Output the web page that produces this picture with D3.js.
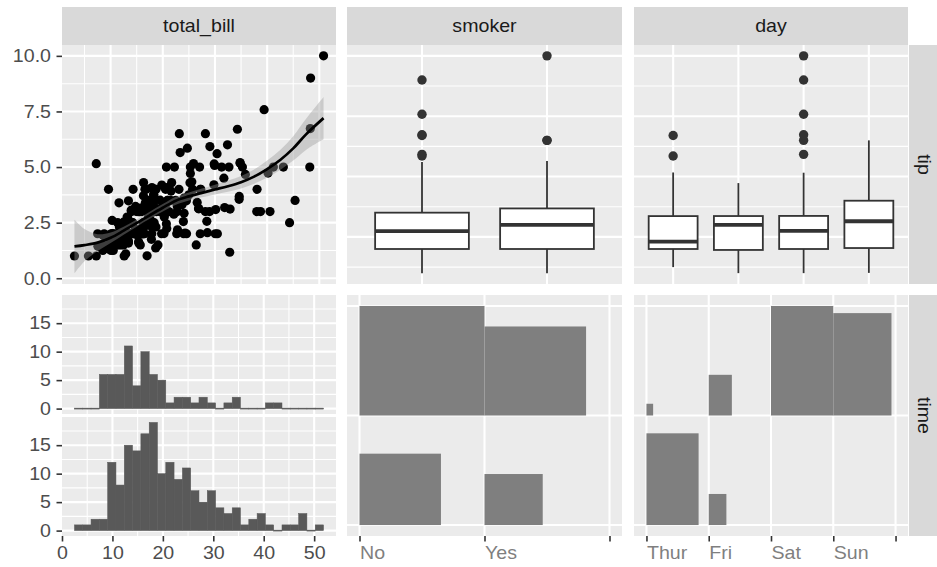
<!DOCTYPE html>
<html>
<head>
<meta charset="utf-8">
<script src="https://cdn.jsdelivr.net/npm/d3@7"></script>
<style>
  body { margin: 0; background: #ffffff; }
  svg { display: block; }
  text { font-family: "Liberation Sans", Arial, Helvetica, sans-serif; }
</style>
</head>
<body>
<svg id="chart" width="937" height="567"></svg>
<script>
// ---------------- data: restaurant tips ----------------
const totalBill = [
  16.99,10.34,21.01,23.68,24.59,25.29,8.77,26.88,15.04,14.78,
  10.27,35.26,15.42,18.43,14.83,21.58,10.33,16.29,16.97,20.65,
  17.92,20.29,15.77,39.42,19.82,17.81,13.37,12.69,21.7,19.65,
  9.55,18.35,15.06,20.69,17.78,24.06,16.31,16.93,18.69,31.27,
  16.04,17.46,13.94,9.68,30.4,18.29,22.23,32.4,28.55,18.04,
  12.54,10.29,34.81,9.94,25.56,19.49,38.01,26.41,11.24,48.27,
  20.29,13.81,11.02,18.29,17.59,20.08,16.45,3.07,20.23,15.01,
  12.02,17.07,26.86,25.28,14.73,10.51,17.92,27.2,22.76,17.29,
  19.44,16.66,10.07,32.68,15.98,34.83,13.03,18.28,24.71,21.16,
  28.97,22.49,5.75,16.32,22.75,40.17,27.28,12.03,21.01,12.46,
  11.35,15.38,44.3,22.42,20.92,15.36,20.49,25.21,18.24,14.31,
  14.0,7.25,38.07,23.95,25.71,17.31,29.93,10.65,12.43,24.08,
  11.69,13.42,14.26,15.95,12.48,29.8,8.52,14.52,11.38,22.82,
  19.08,20.27,11.17,12.26,18.26,8.51,10.33,14.15,16.0,13.16,
  17.47,34.3,41.19,27.05,16.43,8.35,18.64,11.87,9.78,7.51,
  14.07,13.13,17.26,24.55,19.77,29.85,48.17,25.0,13.39,16.49,
  21.5,12.66,16.21,13.81,17.51,24.52,20.76,31.71,10.59,10.63,
  50.81,15.81,7.25,31.85,16.82,32.9,17.89,14.48,9.6,34.63,
  34.65,23.33,45.35,23.17,40.55,20.69,20.9,30.46,18.15,23.1,
  15.69,19.81,28.44,15.48,16.58,7.56,10.34,43.11,13.0,13.51,
  18.71,12.74,13.0,16.4,20.53,16.47,26.59,38.73,24.27,12.76,
  30.06,25.89,48.33,13.27,28.17,12.9,28.15,11.59,7.74,30.14,
  12.16,13.42,8.58,15.98,13.42,16.27,10.09,20.45,13.28,22.12,
  24.01,15.69,11.61,10.77,15.53,10.07,12.6,32.83,35.83,29.03,
  27.18,22.67,17.82,18.78
];
const tipAmount = [
  1.01,1.66,3.5,3.31,3.61,4.71,2.0,3.12,1.96,3.23,
  1.71,5.0,1.57,3.0,3.02,3.92,1.67,3.71,3.5,3.35,
  4.08,2.75,2.23,7.58,3.18,2.34,2.0,2.0,4.3,3.0,
  1.45,2.5,3.0,2.45,3.27,3.6,2.0,3.07,2.31,5.0,
  2.24,2.54,3.06,1.32,5.6,3.0,5.0,6.0,2.05,3.0,
  2.5,2.6,5.2,1.56,4.34,3.51,3.0,1.5,1.76,6.73,
  3.21,2.0,1.98,3.76,2.64,3.15,2.47,1.0,2.01,2.09,
  1.97,3.0,3.14,5.0,2.2,1.25,3.08,4.0,3.0,2.71,
  3.0,3.4,1.83,5.0,2.03,5.17,2.0,4.0,5.85,3.0,
  3.0,3.5,1.0,4.3,3.25,4.73,4.0,1.5,3.0,1.5,
  2.5,3.0,2.5,3.48,4.08,1.64,4.06,4.29,3.76,4.0,
  3.0,1.0,4.0,2.55,4.0,3.5,5.07,1.5,1.8,2.92,
  2.31,1.68,2.5,2.0,2.52,4.2,1.48,2.0,2.0,2.18,
  1.5,2.83,1.5,2.0,3.25,1.25,2.0,2.0,2.0,2.75,
  3.5,6.7,5.0,5.0,2.3,1.5,1.36,1.63,1.73,2.0,
  2.5,2.0,2.74,2.0,2.0,5.14,5.0,3.75,2.61,2.0,
  3.5,2.5,2.0,2.0,3.0,3.48,2.24,4.5,1.61,2.0,
  10.0,3.16,5.15,3.18,4.0,3.11,2.0,2.0,4.0,3.55,
  3.68,5.65,3.5,6.5,3.0,5.0,3.5,2.0,3.5,4.0,
  1.5,4.19,2.56,2.02,4.0,1.44,2.0,5.0,2.0,2.0,
  4.0,2.01,2.0,2.5,4.0,3.23,3.41,3.0,2.03,2.23,
  2.0,5.16,9.0,2.5,6.5,1.1,3.0,1.5,1.44,3.09,
  2.2,3.48,1.92,3.0,1.58,2.5,2.0,3.0,2.72,2.88,
  2.0,3.0,3.39,1.47,3.0,1.25,1.0,1.17,4.67,5.92,
  2.0,2.0,1.75,3.0
];

// loess fit of tip on total_bill with its confidence band
const smoothBill = [3.07,5,7.5,10,12.5,15,17.5,20,22.5,25,27.5,30,32.5,35,37.5,40,42.5,45,47.5,50.81];
const smoothFit  = [1.43,1.49,1.60,1.82,2.14,2.48,2.83,3.17,3.49,3.68,3.84,3.99,4.14,4.32,4.57,4.91,5.32,5.84,6.48,7.20];
const smoothLow  = [0.23,0.77,1.22,1.58,1.96,2.32,2.67,3.00,3.31,3.50,3.64,3.77,3.89,4.04,4.25,4.53,4.87,5.29,5.78,6.25];
const smoothHigh = [2.63,2.21,1.98,2.06,2.32,2.64,2.99,3.34,3.67,3.86,4.04,4.21,4.39,4.60,4.89,5.29,5.77,6.39,7.18,8.15];

// tip by smoker: boxplot statistics
const smokerLevels = ["No", "Yes"];
const smokerLow  = [1.0, 1.0];
const smokerQ1   = [2.0, 2.0];
const smokerMid  = [2.74, 3.0];
const smokerQ3   = [3.505, 3.68];
const smokerHigh = [5.6, 5.65];
const smokerOut  = [[5.85, 5.92, 6.7, 6.73, 7.58, 9.0], [6.5, 6.5, 10.0]];

// tip by day: boxplot statistics
const dayLevels = ["Thur", "Fri", "Sat", "Sun"];
const dayLow  = [1.25, 1.0, 1.0, 1.01];
const dayQ1   = [2.0, 1.96, 2.0, 2.04];
const dayMid  = [2.305, 3.0, 2.75, 3.15];
const dayQ3   = [3.3625, 3.365, 3.37, 4.0];
const dayHigh = [5.17, 4.73, 5.16, 6.5];
const dayOut  = [[5.85, 6.7], [], [5.92, 6.5, 6.73, 7.58, 9.0, 10.0], []];

// total_bill histograms, one per meal time
const timeLevels = ["Lunch", "Dinner"];
const binBreaks = [2.47,4.12,5.76,7.41,9.05,10.70,12.35,13.99,15.64,17.29,18.93,20.58,22.22,23.87,25.52,
                   27.16,28.81,30.46,32.10,33.75,35.39,37.04,38.69,40.33,41.98,43.62,45.27,46.92,48.56,50.21,51.86];
const lunchCounts  = [0,0,0,6,6,6,11,4,10,6,5,1,2,2,1,2,1,0,1,2,0,0,0,1,1,0,0,0,0,0];
const dinnerCounts = [1,1,2,2,12,8,15,14,17,19,10,12,9,11,7,5,7,4,3,4,1,2,3,1,0,1,1,3,0,1];

// cross counts for the ratio tiles (per time level, in timeLevels order)
const smokerTimeCounts = [[45, 23], [106, 70]];
const dayTimeCounts    = [[61, 7, 0, 0], [1, 12, 87, 76]];

// axis / strip labels
const columnTitles = ["total_bill", "smoker", "day"];
const rowTitles = ["tip", "time"];
const tipTicks = [0, 2.5, 5, 7.5, 10];
const billTicks = [0, 10, 20, 30, 40, 50];
const countTicks = [0, 5, 10, 15];

// ---------------- layout ----------------
const FONT = 18;
const TXT_STRETCH = 1.09;
const cols = [[62, 336], [347, 622], [634, 908]];
const rows = [[45, 284], [295, 536]];
const stripTop = [7, 45];
const stripRight = [909, 947];
const HIST_GAP = 3;

const BG = "#EBEBEB", GRID = "#FFFFFF";
const svg = d3.select("#chart");
svg.append("rect").attr("width", 937).attr("height", 567).attr("fill", "#ffffff");

function expand(ext, m = 0.05) {
  const s = ext[1] - ext[0];
  return [ext[0] - s * m, ext[1] + s * m];
}

function panel(x0, x1, y0, y1) {
  const g = svg.append("g");
  g.append("rect").attr("x", x0).attr("y", y0).attr("width", x1 - x0).attr("height", y1 - y0).attr("fill", BG);
  return g;
}

function grid(g, box, xMajor, xMinor, yMajor, yMinor) {
  const [x0, x1, y0, y1] = box;
  const inX = v => v >= x0 && v <= x1, inY = v => v >= y0 && v <= y1;
  const vlines = (vals, w) => g.selectAll(null).data(vals.filter(inX)).join("line")
    .attr("x1", d => d).attr("x2", d => d).attr("y1", y0).attr("y2", y1)
    .attr("stroke", GRID).attr("stroke-width", w);
  const hlines = (vals, w) => g.selectAll(null).data(vals.filter(inY)).join("line")
    .attr("y1", d => d).attr("y2", d => d).attr("x1", x0).attr("x2", x1)
    .attr("stroke", GRID).attr("stroke-width", w);
  vlines(xMinor, 1.05); hlines(yMinor, 1.05);
  vlines(xMajor, 2.1); hlines(yMajor, 2.1);
}

// axis text is widened slightly around each label's own anchor point
function styleAxis(g, colour) {
  g.attr("font-size", FONT).attr("font-family", '"Liberation Sans", Arial, sans-serif');
  g.select(".domain").remove();
  g.selectAll(".tick line").attr("stroke", "#333333").attr("stroke-width", 1.6);
  g.selectAll(".tick text").attr("fill", colour).each(function () {
    const t = d3.select(this);
    const x = +t.attr("x") || 0, y = +t.attr("y") || 0;
    t.attr("x", null).attr("y", null)
      .attr("transform", `translate(${x},${y}) scale(${TXT_STRETCH},1)`);
  });
}

// ---------------- row 1, col 1: scatter with loess ----------------
{
  const [x0, x1] = cols[0], [y0, y1] = rows[0];
  const x = d3.scaleLinear().domain(expand(d3.extent(totalBill))).range([x0, x1]);
  const y = d3.scaleLinear().domain(expand([d3.min(smoothLow), d3.max(tipAmount)])).range([y1, y0]);
  const g = panel(x0, x1, y0, y1);
  grid(g, [x0, x1, y0, y1],
    [10, 20, 30, 40, 50].map(x), [0, 5, 15, 25, 35, 45, 55].map(x),
    tipTicks.map(y), [1.25, 3.75, 6.25, 8.75].map(y));

  g.selectAll(null).data(d3.range(totalBill.length)).join("circle")
    .attr("cx", i => x(totalBill[i])).attr("cy", i => y(tipAmount[i]))
    .attr("r", 4.6).attr("fill", "#000000");

  const idx = d3.range(smoothBill.length);
  g.append("path")
    .attr("d", d3.area().curve(d3.curveCatmullRom)
      .x(i => x(smoothBill[i])).y0(i => y(smoothLow[i])).y1(i => y(smoothHigh[i]))(idx))
    .attr("fill", "#999999").attr("fill-opacity", 0.4);
  g.append("path")
    .attr("d", d3.line().curve(d3.curveCatmullRom)
      .x(i => x(smoothBill[i])).y(i => y(smoothFit[i]))(idx))
    .attr("fill", "none").attr("stroke", "#000000").attr("stroke-width", 2.7);

  const ax = svg.append("g").attr("transform", `translate(${x0},0)`)
    .call(d3.axisLeft(y).tickValues(tipTicks).tickFormat(d3.format(".1f")).tickSize(5.5).tickPadding(5.5));
  styleAxis(ax, "#4D4D4D");
}

// ---------------- row 1, cols 2-3: boxplots ----------------
function boxPanel(col, levels, lo, q1, mid, q3, hi, outs) {
  const [x0, x1] = cols[col], [y0, y1] = rows[0];
  const allVals = lo.concat(hi, outs.flat());
  const x = d3.scalePoint().domain(levels).range([x0, x1]).padding(0.6);
  const y = d3.scaleLinear().domain(expand(d3.extent(allVals))).range([y1, y0]);
  const g = panel(x0, x1, y0, y1);
  grid(g, [x0, x1, y0, y1], levels.map(x), [], tipTicks.map(y), [1.25, 3.75, 6.25, 8.75].map(y));
  const bw = x.step() * 0.75;
  const stroke = "#333333";
  levels.forEach((lev, i) => {
    const cx = x(lev);
    g.append("line").attr("x1", cx).attr("x2", cx).attr("y1", y(hi[i])).attr("y2", y(q3[i]))
      .attr("stroke", stroke).attr("stroke-width", 1.8);
    g.append("line").attr("x1", cx).attr("x2", cx).attr("y1", y(q1[i])).attr("y2", y(lo[i]))
      .attr("stroke", stroke).attr("stroke-width", 1.8);
    g.append("rect").attr("x", cx - bw / 2).attr("width", bw)
      .attr("y", y(q3[i])).attr("height", y(q1[i]) - y(q3[i]))
      .attr("fill", "#ffffff").attr("stroke", stroke).attr("stroke-width", 1.8);
    g.append("line").attr("x1", cx - bw / 2).attr("x2", cx + bw / 2).attr("y1", y(mid[i])).attr("y2", y(mid[i]))
      .attr("stroke", stroke).attr("stroke-width", 3.8);
    g.selectAll(null).data(outs[i]).join("circle")
      .attr("cx", cx).attr("cy", d => y(d)).attr("r", 4.7).attr("fill", stroke);
  });
}
boxPanel(1, smokerLevels, smokerLow, smokerQ1, smokerMid, smokerQ3, smokerHigh, smokerOut);
boxPanel(2, dayLevels, dayLow, dayQ1, dayMid, dayQ3, dayHigh, dayOut);

// ---------------- row 2, col 1: faceted histograms ----------------
{
  const [x0, x1] = cols[0], [y0, y1] = rows[1];
  const x = d3.scaleLinear().domain(expand([binBreaks[0], binBreaks[binBreaks.length - 1]])).range([x0, x1]);
  const maxCount = d3.max(lunchCounts.concat(dinnerCounts));
  const subH = (y1 - y0 - HIST_GAP) / 2;
  const series = [lunchCounts, dinnerCounts];
  series.forEach((counts, k) => {
    const top = y0 + k * (subH + HIST_GAP), bot = top + subH;
    const y = d3.scaleLinear().domain(expand([0, maxCount])).range([bot, top]);
    const g = panel(x0, x1, top, bot);
    grid(g, [x0, x1, top, bot], billTicks.map(x), [5, 15, 25, 35, 45].map(x),
      countTicks.map(y), [2.5, 7.5, 12.5, 17.5].map(y));
    g.selectAll(null).data(counts).join("rect")
      .attr("x", (c, i) => x(binBreaks[i]))
      .attr("width", (c, i) => x(binBreaks[i + 1]) - x(binBreaks[i]))
      .attr("y", c => c > 0 ? y(c) : y(0) - 0.5)
      .attr("height", c => c > 0 ? y(0) - y(c) : 1)
      .attr("fill", "#595959").attr("stroke", "#595959").attr("stroke-width", 0.5);
    const ax = svg.append("g").attr("transform", `translate(${x0},0)`)
      .call(d3.axisLeft(y).tickValues(countTicks).tickSize(5.5).tickPadding(5.5));
    styleAxis(ax, "#4D4D4D");
  });
  const bx = svg.append("g").attr("transform", `translate(0,${y1})`)
    .call(d3.axisBottom(x).tickValues(billTicks).tickSize(5.5).tickPadding(5));
  styleAxis(bx, "#4D4D4D");
}

// ---------------- row 2, cols 2-3: ratio tiles ----------------
function ratioPanel(col, levels, counts) {
  const [x0, x1] = cols[col], [y0, y1] = rows[1];
  const nx = levels.length, ny = timeLevels.length;
  const x = d3.scaleLinear().domain(expand([1, nx + 1])).range([x0, x1]);
  const y = d3.scaleLinear().domain(expand([1, ny + 1])).range([y1, y0]);
  const g = panel(x0, x1, y0, y1);
  grid(g, [x0, x1, y0, y1], d3.range(1, nx + 2).map(x), [], d3.range(1, ny + 2).map(y), []);
  const maxC = d3.max(counts.flat());
  const cells = [];
  counts.forEach((row, j) => row.forEach((c, i) => { if (c > 0) cells.push({ i, j, s: Math.sqrt(c / maxC) }); }));
  g.selectAll(null).data(cells).join("rect")
    .attr("x", d => x(d.i + 1)).attr("width", d => x(d.i + 1 + d.s) - x(d.i + 1))
    .attr("y", d => y(d.j + 1 + d.s)).attr("height", d => y(d.j + 1) - y(d.j + 1 + d.s))
    .attr("fill", "#7F7F7F");
  const labels = levels.concat([""]);
  const ax = svg.append("g").attr("transform", `translate(0,${y1})`)
    .call(d3.axisBottom(x).tickValues(d3.range(1, nx + 2)).tickFormat((d, i) => labels[i]).tickSize(5.5).tickPadding(5));
  styleAxis(ax, "#7F7F7F");
  ax.selectAll(".tick text").attr("text-anchor", "start");
}
ratioPanel(1, smokerLevels, smokerTimeCounts);
ratioPanel(2, dayLevels, dayTimeCounts);

// ---------------- strips ----------------
columnTitles.forEach((t, i) => {
  const [x0, x1] = cols[i];
  svg.append("rect").attr("x", x0).attr("y", stripTop[0]).attr("width", x1 - x0)
    .attr("height", stripTop[1] - stripTop[0]).attr("fill", "#D9D9D9");
  svg.append("text")
    .attr("transform", `translate(${(x0 + x1) / 2},${(stripTop[0] + stripTop[1]) / 2}) scale(${TXT_STRETCH},1)`)
    .attr("dy", "0.36em").attr("text-anchor", "middle").attr("font-size", FONT)
    .attr("fill", "#1A1A1A").text(t);
});
rowTitles.forEach((t, j) => {
  const [y0, y1] = rows[j];
  svg.append("rect").attr("x", stripRight[0]).attr("y", y0).attr("width", stripRight[1] - stripRight[0])
    .attr("height", y1 - y0).attr("fill", "#D9D9D9");
  svg.append("text")
    .attr("transform", `translate(924,${(y0 + y1) / 2}) rotate(90) scale(${TXT_STRETCH},1)`)
    .attr("dy", "0.36em").attr("text-anchor", "middle").attr("font-size", FONT)
    .attr("fill", "#1A1A1A").text(t);
});
</script>
</body>
</html>
